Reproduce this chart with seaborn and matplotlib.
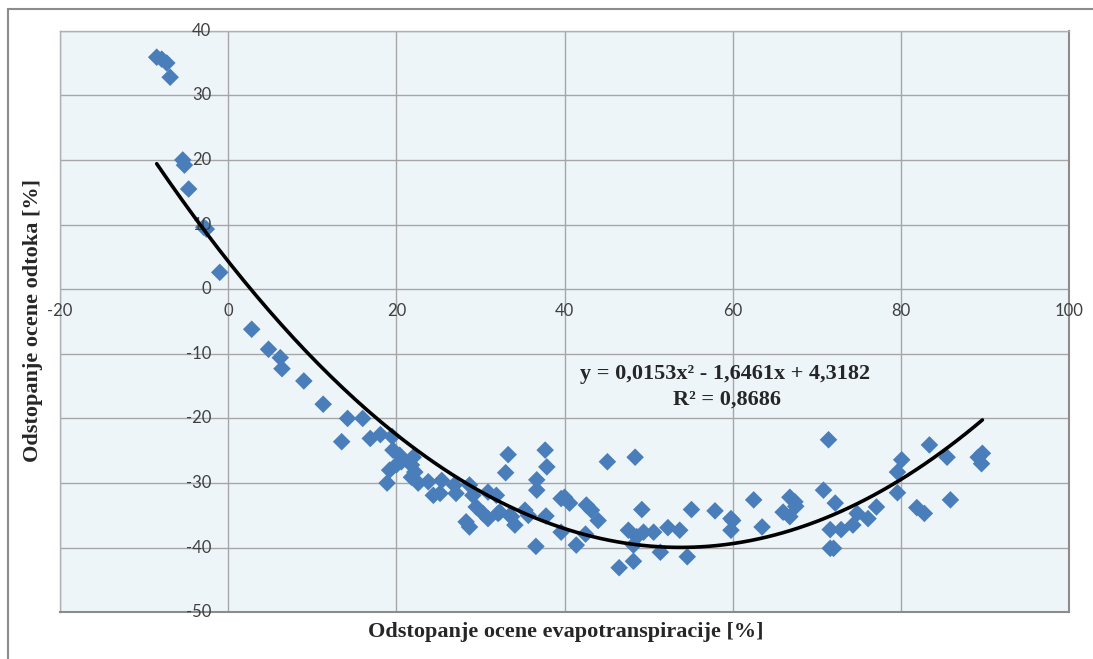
import numpy as np
import pandas as pd
import matplotlib
matplotlib.use("Agg")
import matplotlib.pyplot as plt
import seaborn as sns
from matplotlib.lines import Line2D

# Data
evapotranspiration = [
    -8.5, -7.9, -7.3, -6.9, -5.4, -5.2, -4.7, -2.9, -2.6, -1.0,
    2.8, 4.8, 6.2, 6.4, 9.0, 11.3, 14.2, 16.0, 13.5, 16.9,
    18.1, 19.5, 18.9, 19.6, 20.4, 20.6, 20.0, 19.2, 22.0, 21.8,
    22.2, 21.8, 22.6, 23.8, 24.4, 25.2, 25.4, 26.9, 27.1, 28.7,
    29.1, 29.5, 30.3, 30.9, 31.9, 30.9, 32.1, 28.3, 28.7, 33.3,
    33.0, 33.5, 34.1, 32.3, 33.7, 35.3, 35.7, 37.7, 37.9, 36.7,
    36.7, 37.8, 36.6, 39.6, 40.0, 40.6, 39.6, 41.4, 42.6, 43.2,
    44.0, 42.5, 45.1, 48.4, 49.2, 47.6, 48.6, 49.4, 48.2, 48.2,
    46.5, 50.6, 51.4, 52.3, 53.7, 55.1, 54.6, 57.9, 59.8, 60.0,
    59.8, 62.5, 63.5, 66.0, 66.8, 66.8, 67.4, 67.5, 71.4, 70.8,
    72.2, 71.6, 71.6, 72.0, 72.9, 74.3, 74.8, 76.1, 77.1, 79.6,
    79.6, 80.1, 81.9, 82.8, 83.4, 85.5, 85.9, 89.2, 89.7, 89.6,
]
runoff = [
    35.9, 35.6, 35.0, 32.8, 20.0, 19.2, 15.5, 9.6, 9.3, 2.6,
    -6.2, -9.3, -10.6, -12.3, -14.2, -17.8, -20.0, -20.0, -23.6, -23.1,
    -22.5, -22.8, -30.0, -24.9, -25.7, -26.7, -27.2, -28.0, -26.0, -27.2,
    -28.3, -29.1, -30.0, -29.8, -31.9, -31.6, -29.6, -30.3, -31.6, -30.3,
    -31.9, -33.7, -34.7, -31.4, -31.9, -35.5, -34.7, -36.0, -36.8, -25.6,
    -28.4, -35.0, -36.5, -34.5, -35.2, -34.2, -35.0, -24.9, -27.5, -29.5,
    -31.1, -35.1, -39.8, -32.4, -32.2, -33.1, -37.6, -39.6, -33.4, -34.2,
    -35.8, -37.9, -26.7, -26.0, -34.1, -37.3, -38.3, -37.6, -39.6, -42.1,
    -43.1, -37.6, -40.7, -36.9, -37.3, -34.1, -41.4, -34.3, -35.5, -35.8,
    -37.3, -32.6, -36.8, -34.5, -32.2, -35.2, -32.9, -33.6, -23.3, -31.1,
    -33.1, -37.2, -40.1, -40.1, -37.2, -36.5, -34.7, -35.5, -33.7, -31.5,
    -28.3, -26.4, -33.8, -34.7, -24.1, -26.0, -32.6, -26.0, -25.4, -27.0,
]
# Polynomial trendline coefficients as printed on the chart
trend_coef = [0.0153, -1.6461, 4.3182]
trend_range = [-8.5, 89.7]
x_ticks = [-20, 0, 20, 40, 60, 80, 100]
y_ticks = [-50, -40, -30, -20, -10, 0, 10, 20, 30, 40]
x_label = "Odstopanje ocene evapotranspiracije [%]"
y_label = "Odstopanje ocene odtoka [%]"
eq_text = "y = 0,0153x² - 1,6461x + 4,3182"
r2_text = "R² = 0,8686"

df = pd.DataFrame({"x": evapotranspiration, "y": runoff})
xs = np.linspace(trend_range[0], trend_range[1], 200)
trend = pd.DataFrame({"x": xs, "y": np.polyval(trend_coef, xs)})

sns.set_style("white")
W, H = 1093, 659
fig = plt.figure(figsize=(W / 100, H / 100), dpi=100)
left, right, top, bottom = 60, 1069, 30.7, 612.3
ax = fig.add_axes([left / W, 1 - bottom / H, (right - left) / W, (bottom - top) / H])
ax.set_facecolor("#EDF5F9")

sns.scatterplot(data=df, x="x", y="y", marker="D", s=80, color="#4A7EBB",
                edgecolor="none", linewidth=0, ax=ax, zorder=3)
sns.lineplot(data=trend, x="x", y="y", color="black", linewidth=2.6, ax=ax,
             zorder=4, sort=False)

ax.set_xlim(-20, 100)
ax.set_ylim(-50, 40)
ax.set_xticks(x_ticks)
ax.set_yticks(y_ticks)
ax.grid(True, color="#A6A6A6", linewidth=1.0)
ax.set_axisbelow(True)
ax.set_xlabel("")
ax.set_ylabel("")
ax.tick_params(length=0, labelbottom=False, labelleft=False)

# tick labels placed at the axes crossing (origin)
tick_font = dict(family="Lato", size=12, color="#404040")
for xv in x_ticks:
    ax.text(xv, -2.2, str(xv), ha="center", va="top", **tick_font)
for yv in y_ticks:
    ax.text(-2.0, yv, str(yv), ha="right", va="center", **tick_font)

for s in ["top", "left"]:
    ax.spines[s].set_color("#B0B0B0")
    ax.spines[s].set_linewidth(1.0)
for s in ["bottom", "right"]:
    ax.spines[s].set_color("#8C8C8C")
    ax.spines[s].set_linewidth(1.5)

lab_font = dict(family="Liberation Serif", weight="bold", size=16)
fig.text(566 / W, 1 - 632 / H, x_label, ha="center", va="center", **lab_font)
fig.text(33 / W, 1 - 321 / H, y_label, ha="center", va="center", rotation=90, **lab_font)
fig.text(725 / W, 1 - 374 / H, eq_text, ha="center", va="center", **lab_font)
fig.text(727 / W, 1 - 400 / H, r2_text, ha="center", va="center", **lab_font)

# outer chart frame (top and left edges visible in the crop)
fig.add_artist(Line2D([8 / W, 1.0], [1 - 9 / H, 1 - 9 / H], color="#8C8C8C", linewidth=1.5))
fig.add_artist(Line2D([8 / W, 8 / W], [1 - 9 / H, 0.0], color="#8C8C8C", linewidth=1.5))

fig.savefig("out.png", dpi=100)
